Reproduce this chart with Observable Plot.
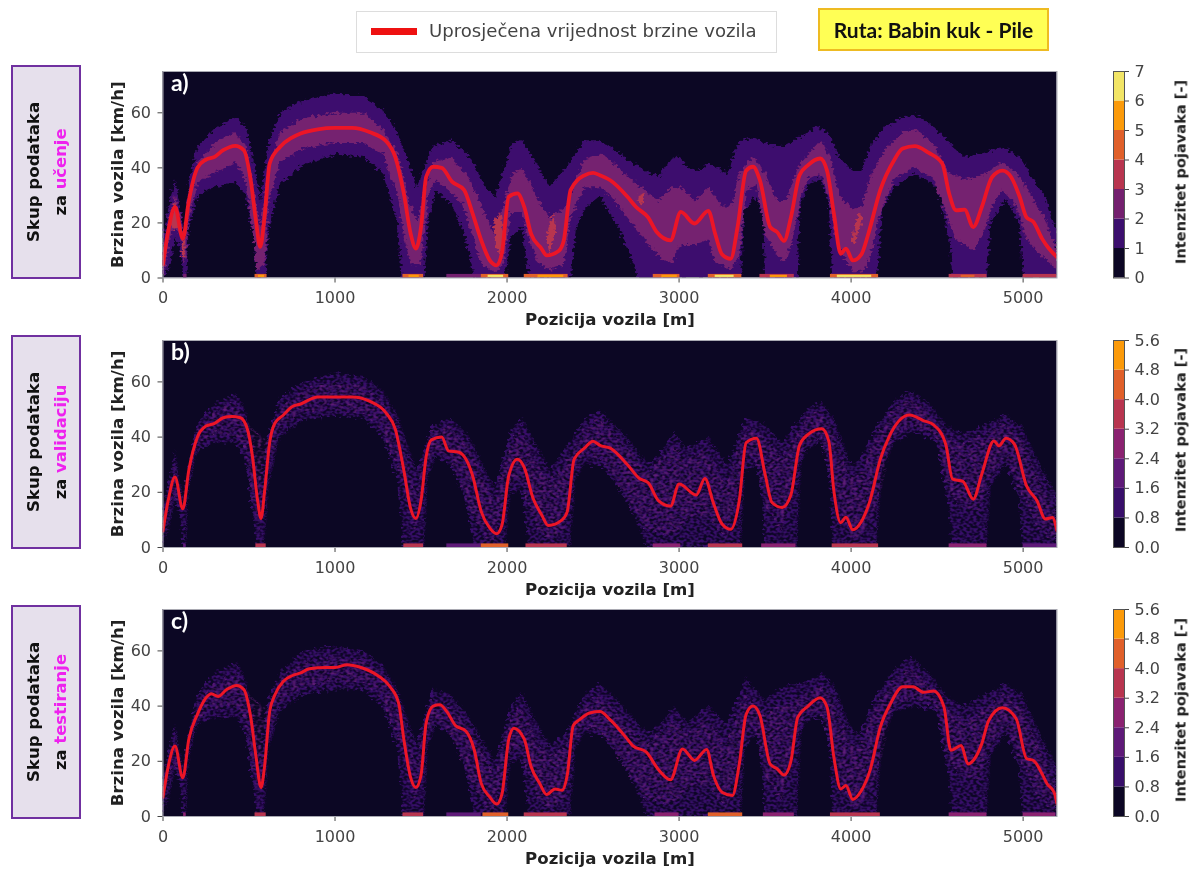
<!DOCTYPE html>
<html><head><meta charset="utf-8">
<script src="https://cdn.jsdelivr.net/npm/d3@7"></script>
<script src="https://cdn.jsdelivr.net/npm/@observablehq/plot@0.6"></script>
<style>
html,body{margin:0;background:#fff}
#page{position:relative;width:1195px;height:870px;overflow:hidden;font-family:"DejaVu Sans",sans-serif}
.abs{position:absolute}
.side{position:absolute;left:11px;width:66px;height:210px;background:#e6e0ec;border:2px solid #7030a0;filter:blur(.3px)}
.side div{position:absolute;left:50%;top:50%;transform:translate(-50%,-50%) rotate(-90deg);white-space:nowrap;text-align:center;font-family:"DejaVu Sans";font-weight:700;color:#111}
.side .l1{font-size:16.6px;margin-left:-13px}
.side .l2{font-size:16.4px;margin-left:14px}
.side b{color:#ee22ee}
#legend{left:356px;top:11px;width:419px;height:40px;border:1px solid #ddd;background:#fff;filter:blur(.3px)}
#legend i{position:absolute;left:14px;top:16px;width:46px;height:7px;background:#ee1111}
#legend span{position:absolute;left:72px;top:8px;font:18.1px "DejaVu Sans";color:#444;white-space:nowrap}
#route{left:818px;top:8px;width:227px;height:39px;border:2px solid #eebb22;background:#ffff55;font:700 21px Lato;color:#111;text-align:center;line-height:39px;filter:blur(.3px)}
svg{overflow:visible}
</style></head><body>
<svg width="0" height="0" style="position:absolute">
<defs>
<filter id="grain" filterUnits="userSpaceOnUse" x="0" y="0" width="1100" height="260">
<feTurbulence type="fractalNoise" baseFrequency="0.28 0.4" numOctaves="1" seed="4" result="n"/>
<feDisplacementMap in="SourceGraphic" in2="n" scale="9" xChannelSelector="R" yChannelSelector="G"/>
</filter>
<filter id="speck" filterUnits="userSpaceOnUse" x="0" y="0" width="1100" height="260">
<feTurbulence type="fractalNoise" baseFrequency="0.3 0.42" numOctaves="1" seed="7" result="n"/>
<feDisplacementMap in="SourceGraphic" in2="n" scale="11" xChannelSelector="R" yChannelSelector="G" result="d"/>
<feColorMatrix in="n" type="matrix" values="0 0 0 0 0  0 0 0 0 0  0 0 0 0 0  3.2 0 0 0 -1.1" result="m"/>
<feComposite in="d" in2="m" operator="in"/>
</filter>
<filter id="speckCore" filterUnits="userSpaceOnUse" x="0" y="0" width="1100" height="260">
<feTurbulence type="fractalNoise" baseFrequency="0.26 0.38" numOctaves="1" seed="13" result="n"/>
<feDisplacementMap in="SourceGraphic" in2="n" scale="11" xChannelSelector="R" yChannelSelector="G" result="d"/>
<feColorMatrix in="n" type="matrix" values="0 0 0 0 0  0 0 0 0 0  0 0 0 0 0  3 0 0 0 -1.35" result="m"/>
<feComposite in="d" in2="m" operator="in"/>
</filter>
</defs></svg>
<div id="page"></div>
<script>
// ---- text ----
const xTicks=[0,1000,2000,3000,4000,5000];
const yTicks=[0,20,40,60];
const barTicksA=[0,1,2,3,4,5,6,7];
const barTicksB=[0,0.8,1.6,2.4,3.2,4.0,4.8,5.6];
const xLabel="Pozicija vozila [m]";
const yLabel="Brzina vozila [km/h]";
const barLabel="Intenzitet pojavaka [-]";
const colorsA=["#0c0724","#3c0f6e","#74206f","#b8354f","#e0602a","#fb9a0a","#f2e566"];
const colorsB=["#0c0724","#380f6a","#5e1a78","#8a2270","#b8354f","#e0602a","#fb9a0a"];

// ---- mean speed: x [m], v [km/h] pairs ----
const meanA=[0,5,30,17,70,25.8,115,14.3,150,28,200,40,250,43,300,44,350,46.4,420,48,470,46.4,510,35.5,540,21,565,11.3,590,22,620,41.6,680,47.6,750,51,800,52.5,900,54,1000,54.5,1100,54.5,1200,53,1300,49.5,1350,44,1400,30.7,1440,16,1470,10.7,1500,18.5,1530,36.7,1570,40.4,1620,40,1680,35,1750,32,1800,23.4,1850,13.7,1900,6.4,1940,4.6,1970,9,2010,29.5,2060,30.7,2100,25.8,2140,16,2200,10.7,2230,8.2,2300,9.8,2330,13.7,2370,32,2450,37.3,2500,38.2,2540,37.3,2600,35.5,2700,29.5,2750,25.8,2820,22,2870,16.7,2950,13.7,3010,24,3090,19.8,3170,24.4,3210,16,3250,8.6,3300,7,3340,18.5,3390,39,3430,40.4,3470,35.5,3530,18.5,3570,16.7,3610,13.5,3650,22,3700,37.3,3750,41,3820,43.4,3860,39,3900,23.4,3940,8.8,3970,10.7,4010,6.4,4060,8.6,4100,16,4170,32,4250,42.8,4300,47,4370,47.9,4450,45.5,4530,41.6,4570,30.7,4610,24.6,4660,24.8,4710,18.5,4760,25.8,4820,36.7,4880,39,4930,36.7,4980,29.5,5020,22,5060,20.4,5110,14.3,5150,10.7,5197,7.6];
const meanB=[0,6,30,17,70,25.5,115,14,150,28,200,40,250,44,300,45,350,47,400,47.5,450,47,490,43,520,33,550,17,570,10.5,590,20,620,38,650,45,700,48,750,51,800,52,900,54.5,1000,54.5,1100,54.5,1200,53,1300,48.5,1350,43,1400,28,1440,14,1470,10.5,1500,17,1530,33,1560,39,1620,40,1660,35,1720,34.5,1800,26,1850,13,1900,7,1940,5,1970,8,2010,26,2060,32,2100,29,2150,18,2200,12,2240,8,2320,10,2350,13,2390,32,2450,36,2500,38.5,2540,37,2600,36,2700,30,2770,25,2820,23.5,2880,17,2950,15,3000,23,3100,19,3150,25,3200,16,3250,8.5,3300,6.6,3350,17,3390,38,3450,39.6,3500,26.6,3540,16.3,3600,14.5,3650,19,3700,37,3750,41,3830,43,3870,38.6,3900,20.5,3940,9,3970,11,4010,6.4,4060,9.4,4110,17,4170,32,4220,40,4340,48,4420,46,4480,44.4,4550,37.4,4590,24.8,4650,24,4710,17.5,4760,26.6,4830,38.6,4860,36.8,4900,39.6,4950,37.4,5020,22.3,5080,17,5130,10.3,5170,10.9,5197,6];
const meanC=[0,7,30,18,70,25.5,115,14,150,28,200,37,250,43,280,44.5,320,43.5,370,46,430,47.5,470,46,510,36,540,22,570,10.5,590,18,620,38,650,44,700,49,750,51,800,52,850,53.5,950,54,1000,54,1070,55,1150,54,1250,51,1320,47,1370,41,1400,28,1440,14,1470,10.5,1500,15,1530,34,1570,40,1610,40.5,1650,38,1700,33,1760,31,1810,24,1850,12,1900,7,1940,4.5,1970,8,2010,28,2040,32,2100,28,2140,18,2190,12,2230,8,2280,10,2320,9.5,2350,15,2385,33,2420,35,2480,37.5,2540,38,2600,35,2700,28,2730,25.7,2810,23.3,2880,17,2950,13.3,3020,24.5,3090,20.3,3160,24.3,3200,14.9,3250,8.8,3310,7.6,3350,19,3390,37,3430,40,3470,36.6,3530,19,3570,17.3,3610,15,3650,20,3690,36,3750,40,3820,43,3860,39.7,3900,21.5,3940,10,3970,11.2,4010,6.2,4060,9.4,4110,16.7,4170,32.4,4230,41,4300,47,4360,47,4420,45,4480,45.5,4540,39.7,4580,24,4640,25.7,4680,19,4710,20.3,4760,26.4,4800,34.8,4880,39.4,4960,35.4,5020,21,5060,20.3,5110,15.5,5140,11.8,5180,8.8,5197,4.6];

// ---- extent of the occurrence cloud ----
const outerTop=[0,15,40,28,70,36,100,25,125,15,150,35,200,47.6,300,54,420,58.5,480,55,525,43,565,28,613,49,680,60,810,64.6,1000,67,1166,66,1277,61,1365,52.5,1420,43,1475,33,1565,47.6,1675,50,1785,44,1874,33,1930,29.5,2030,49,2085,50,2185,40,2250,33,2340,40,2450,50,2540,50,2600,47.6,2700,43,2800,39,2880,36.7,2950,43,3000,44,3050,40,3120,39,3170,41.6,3280,38,3350,50,3430,51,3500,49,3600,47.6,3700,51,3800,55,3870,52.5,3930,44,4000,39,4060,39,4120,49,4200,55,4300,58.5,4380,59,4480,55,4570,49,4660,44,4750,45,4880,47.6,4980,44,5060,35.5,5130,29.5,5197,16];
const outerLow=[0,0,40,5,70,15,100,10,120,0,135,0,150,18,200,30,300,33,420,35,480,30,525,15,545,0,590,0,613,18,680,34,810,41,1000,45,1166,44,1277,38,1365,20,1387,0,1520,0,1540,20,1585,32,1675,27,1740,18,1785,8,1807,0,1990,0,2020,15,2085,18,2110,8,2130,0,2370,0,2400,18,2450,25,2540,30,2650,18,2720,8,2760,0,3360,0,3380,25,3450,30,3490,20,3500,0,3690,0,3700,25,3750,34,3820,36,3870,28,3890,0,4150,0,4180,25,4250,33,4370,38,4500,33,4570,15,4590,0,4790,0,4810,20,4900,29,4980,20,5000,0,5197,0];
const innerTop=[0,8,40,22,70,30,100,22,125,14,150,28,200,42,300,49,420,53,480,48,525,32,565,18,613,40,680,53,810,58,1000,60,1166,60,1277,54,1365,45,1420,30,1475,20,1565,42,1675,44,1785,36,1874,23,1930,15,2030,38,2085,40,2185,28,2250,22,2340,26,2450,43,2540,45,2600,43,2700,37,2800,32,2880,28,2950,33,3010,33,3090,28,3170,33,3250,26,3300,26,3350,38,3430,44,3500,38,3570,28,3620,28,3700,41,3820,50,3880,44,3930,30,4010,25,4060,26,4120,38,4200,47,4300,53,4380,54,4480,49,4570,38,4660,36,4750,37,4880,42,4980,37,5060,29,5130,21,5197,10];
const innerLow=[0,0,40,15,70,20,100,15,120,5,135,8,150,22,200,35,300,38,420,42,480,36,525,15,545,3,590,5,613,28,680,42,810,47,1000,49,1166,49,1277,45,1365,30,1400,15,1440,5,1500,5,1540,30,1585,36,1675,31,1740,27,1785,18,1850,5,1940,2,1980,5,2020,24,2085,24,2110,18,2170,6,2250,3,2330,5,2370,22,2450,33,2540,33,2600,30,2700,22,2800,14,2880,8,2950,5,3010,12,3090,12,3170,14,3210,6,3300,3,3350,8,3390,32,3450,34,3500,16,3570,8,3620,6,3660,14,3710,30,3750,36,3820,38,3870,30,3920,12,4010,2,4080,3,4120,10,4170,24,4250,36,4370,40,4480,36,4560,22,4610,14,4710,10,4770,16,4830,28,4880,32,4960,26,5020,14,5110,8,5197,3];
const thinTopB=[0,14,40,25,70,35,100,25,125,14,150,30,200,45,300,52,420,56,480,50,525,38,565,22,613,40,680,54,810,60,1000,63,1166,62,1277,57,1365,48,1420,38,1475,28,1565,44,1675,47,1785,40,1874,28,1930,22,2030,43,2085,47,2185,36,2250,28,2340,36,2450,46,2540,50,2600,46,2700,40,2820,30,2900,35,2970,42,3050,36,3170,40,3280,30,3390,47,3500,44.7,3600,38,3750,50.7,3830,52.5,3900,47,4000,30,4050,32,4150,43.5,4250,53,4350,56.8,4450,52.5,4550,44.7,4650,41,4750,43.5,4900,48,5000,43.5,5100,30,5197,19];
const thinLowB=[0,0,40,8,70,17,100,12,120,0,135,0,150,20,200,35,300,38,420,38,480,32,525,12,545,0,590,0,613,22,680,40,810,46,1000,48,1166,47,1277,40,1365,25,1400,0,1520,0,1540,25,1585,33,1675,30,1740,20,1785,10,1807,0,1990,0,2020,20,2085,20,2110,10,2130,0,2370,0,2400,25,2450,30,2540,30,2650,22,2750,10,2820,0,3360,0,3385,28,3450,30,3490,15,3500,0,3690,0,3710,30,3750,36,3830,38,3880,25,3895,0,4150,0,4180,28,4250,38,4370,42,4500,38,4570,15,4590,0,4790,0,4810,22,4900,30,4980,18,5000,0,5197,0];
const coreTopB=[40,20,70,30,100,20,150,26,200,42,300,49,420,53,480,46,613,38,680,50,810,57,1000,60,1166,59,1277,53,1365,44,1475,20,1565,42,1675,44,1785,36,1874,24,1930,17,2030,38,2085,43,2185,30,2250,24,2340,30,2450,43,2540,47,2700,37,2820,27,2970,37,3050,32,3170,36,3280,22,3390,44,3500,40,3600,33,3750,47,3830,50,3900,42,4000,25,4060,27,4150,40,4250,50,4350,54,4450,49,4550,41,4650,37,4750,40,4900,45,5000,39,5100,24,5197,12];
const coreLowB=[40,12,70,20,100,14,150,22,200,37,300,41,420,41,480,36,525,18,565,5,613,26,680,43,810,49,1000,50,1166,49,1277,43,1365,30,1475,5,1540,30,1585,35,1675,32,1785,14,1874,4,1930,2,2030,24,2085,24,2185,6,2250,3,2340,6,2400,28,2450,33,2540,33,2700,18,2820,6,2970,4,3050,10,3170,12,3280,3,3390,33,3450,33,3500,16,3600,6,3710,33,3750,38,3830,40,3880,28,4000,3,4060,4,4150,14,4250,40,4370,44,4500,40,4570,20,4650,14,4750,14,4810,25,4900,33,4980,22,5100,6,5197,2];
const thinTopC=[0,14,40,25,70,34,100,24,125,14,150,30,200,44,300,52,430,56,480,50,525,38,565,20,613,42,680,52,810,60,1000,62,1166,60,1277,55,1365,46,1420,36,1475,26,1565,46,1675,44,1785,36,1874,26,1930,20,2030,40,2085,45,2185,33,2250,26,2340,30,2450,44,2540,48,2600,45,2700,38,2820,30,2900,34,2970,40,3050,34,3170,40,3280,34,3390,50,3500,42,3600,47,3750,49,3830,52,3900,48,4000,32,4050,30,4150,44,4250,53,4350,58,4450,52,4550,44,4650,40,4750,43,4900,48,5000,44,5100,30,5197,18];
const thinLowC=[0,0,40,8,70,17,100,12,120,0,135,0,150,20,200,33,300,36,430,36,480,30,525,12,545,0,590,0,613,24,680,38,810,44,1000,46,1166,46,1277,40,1365,25,1400,0,1520,0,1540,25,1585,33,1675,30,1740,20,1785,10,1807,0,1990,0,2020,20,2085,20,2110,10,2130,0,2370,0,2400,25,2450,30,2540,30,2650,22,2750,10,2820,0,3360,0,3385,25,3450,30,3490,14,3500,0,3690,0,3710,30,3750,35,3830,36,3880,25,3895,0,4150,0,4180,28,4250,38,4370,40,4500,38,4570,15,4590,0,4790,0,4810,22,4900,30,4980,18,5000,0,5197,0];
const coreTopC=[40,19,70,29,100,19,150,26,200,40,300,48,430,52,480,46,613,38,680,49,810,56,1000,58,1166,57,1277,52,1365,43,1475,19,1565,42,1675,40,1785,32,1874,22,1930,15,2030,36,2085,40,2185,27,2250,22,2340,25,2450,40,2540,44,2700,34,2820,26,2970,35,3050,30,3170,36,3280,26,3390,45,3500,37,3600,40,3750,45,3830,48,3900,43,4000,26,4050,25,4150,40,4250,49,4350,54,4450,48,4550,40,4650,35,4750,38,4900,44,5000,39,5100,25,5197,12];
const coreLowC=[40,12,70,20,100,14,150,22,200,35,300,39,430,40,480,35,525,18,565,5,613,27,680,41,810,47,1000,49,1166,49,1277,43,1365,30,1475,5,1540,30,1585,35,1675,30,1785,14,1874,4,1930,2,2030,24,2085,24,2185,6,2250,3,2340,6,2400,28,2450,32,2540,32,2700,17,2820,6,2970,4,3050,10,3170,12,3280,3,3390,30,3450,33,3500,15,3600,6,3710,33,3750,37,3830,38,3880,28,4000,3,4060,4,4150,14,4250,40,4370,43,4500,40,4570,20,4650,14,4750,14,4810,25,4900,33,4980,22,5100,6,5197,2];
const hotSpotsA=[[1920,20,1960,24,1990,14,1960,8,1930,12],[2230,16,2270,24,2280,16,2245,8],[40,20,70,28,95,20,70,17],[110,14,125,13,125,8,110,8],[4000,14,4050,24,4065,22,4020,12],[2760,30,2800,31,2790,27,2755,28]];

// ---- occurrences at standstill, along v = 0: from, to, intensity ----
const stripA=[[120,140,2.5],[535,605,4.5],[1395,1515,4.5],[1650,1850,2.5],[1850,2010,4.5],[2100,2355,4.5],[2850,3005,4.5],[3170,3365,4.5],[3470,3670,3.5],[3880,4160,4.5],[4570,4790,3.5],[5000,5197,3.5]];
const stripCoreA=[[555,590,5.5],[1430,1490,5.5],[1890,1980,6.5],[2180,2330,5.5],[2900,2990,5.5],[3210,3320,6.5],[3530,3630,5.5],[3920,4120,6.5],[4640,4720,4.5]];
const stripB=[[120,135,2],[540,600,3.6],[1400,1515,3.6],[1650,1850,2],[1850,2010,4.4],[2110,2350,3.6],[2850,3010,2.8],[3170,3370,3.6],[3480,3680,2.8],[3890,4160,3.6],[4570,4790,2.8],[5000,5197,2]];
const stripC=[[120,135,2.8],[535,600,3.6],[1395,1515,3.6],[1650,1850,2],[1860,2010,4.4],[2100,2350,3.6],[2860,3000,2.8],[3170,3370,4.4],[3490,3670,2.8],[3880,4170,3.6],[4570,4790,2.8],[5000,5190,2.8]];

const pairs=f=>{const o=[];for(let i=0;i<f.length;i+=2)o.push({x:f[i],v:f[i+1]});return o;};
const band=(top,low,level)=>pairs(top).concat(pairs(low).reverse()).map(d=>({...d,level}));
const strips=(s)=>s.map(([x1,x2,level])=>({x1,x2,level}));

const panels=[
 {name:"a)",top:71,h:206.5,mean:meanA,sw:3.8,thresholds:[1,2,3,4,5,6],colors:colorsA,
  bands:[[band(outerTop,outerLow,1.5),"url(#grain)"],[band(innerTop,innerLow,2.5),"url(#grain)"]],spots:3.5,strip:strips(stripA),core:strips(stripCoreA),bt:barTicksA},
 {name:"b)",top:339.5,h:207,mean:meanB,sw:3,thresholds:[.8,1.6,2.4,3.2,4,4.8],colors:colorsB,
  bands:[[band(thinTopB,thinLowB,1.2),"url(#speck)"],[band(coreTopB,coreLowB,2),"url(#speckCore)"]],strip:strips(stripB),bt:barTicksB},
 {name:"c)",top:609,h:207,mean:meanC,sw:3,thresholds:[.8,1.6,2.4,3.2,4,4.8],colors:colorsB,
  bands:[[band(thinTopC,thinLowC,1.2),"url(#speck)"],[band(coreTopC,coreLowC,2),"url(#speckCore)"]],strip:strips(stripC),bt:barTicksB}
];

const page=document.getElementById("page");
const place=(el,left,top)=>{el.style.position="absolute";el.style.left=left+"px";el.style.top=top+"px";el.style.filter="blur(.4px)";page.appendChild(el);};
const font={fontFamily:"DejaVu Sans",fontSize:"16px",color:"#444",background:"transparent"};

panels.forEach(p=>{
  const colorScale={type:"threshold",domain:p.thresholds,range:p.colors};
  const marks=[
    Plot.rect([0],{x1:0,x2:5197,y1:0,y2:75,fill:p.colors[0]}),
    ...p.bands.map(([b,f])=>Plot.line(b,{x:"x",y:"v",z:"level",fill:"level",stroke:null,imageFilter:f,curve:"linear",clip:true})),
  ];
  if(p.spots) marks.push(...hotSpotsA.map(s=>Plot.line(pairs(s).map(d=>({...d,level:p.spots})),{x:"x",y:"v",z:"level",fill:"level",stroke:null,imageFilter:"url(#grain)",clip:true})));
  marks.push(
    Plot.rect(p.strip,{x1:"x1",x2:"x2",y1:0,y2:1.3,fill:"level"}),
    ...(p.core?[Plot.rect(p.core,{x1:"x1",x2:"x2",y1:0.2,y2:1.0,fill:"level"})]:[]),
    Plot.line(pairs(p.mean),{x:"x",y:"v",stroke:"#ec1526",strokeWidth:p.sw,strokeLinejoin:"round",curve:"monotone-x",clip:true}),
    Plot.text([p.name],{frameAnchor:"top-left",dx:8,dy:3,fill:"#fff",fontFamily:"Lato",fontWeight:700,fontSize:23,lineAnchor:"top"}),
    Plot.frame({stroke:"#a9a9b2",strokeWidth:1})
  );
  const svg=Plot.plot({
    width:1075,height:p.h+55,marginLeft:162.5,marginRight:18.5,marginTop:0,marginBottom:55,
    style:font,
    x:{domain:[0,5197],ticks:xTicks,tickFormat:"d",tickSize:5,tickPadding:9,label:xLabel,labelAnchor:"center",labelArrow:"none",labelOffset:47},
    y:{domain:[0,75],ticks:yTicks,tickSize:5,tickPadding:7,label:yLabel,labelAnchor:"center",labelArrow:"none",labelOffset:52},
    color:colorScale,
    marks
  });
  svg.querySelectorAll('g[aria-label="x-axis label"] text,g[aria-label="y-axis label"] text').forEach(t=>{t.style.fontWeight="700";t.style.fill="#222";t.style.fontSize="16.6px";});
  place(svg,0,p.top);

  // colour bar
  const step=p.bt[1]-p.bt[0];
  const bins=p.colors.map((c,i)=>({lo:p.bt[i],hi:p.bt[i+1],c}));
  const bar=Plot.plot({
    width:100,height:p.h,marginLeft:23,marginRight:66,marginTop:0,marginBottom:0,style:font,
    x:{domain:[0,1],axis:null},
    y:{domain:[p.bt[0],p.bt[p.bt.length-1]],axis:null},
    marks:[
      Plot.rect(bins,{x1:0,x2:1,y1:"lo",y2:"hi",fill:"c"}),
      Plot.frame({stroke:"#555",strokeWidth:1}),
      Plot.axisY({anchor:"right",ticks:p.bt,tickFormat:step===1?"d":".1f",tickSize:4,tickPadding:6,label:null})
    ]
  });
  place(bar,1090,p.top);
  const t=document.createElement("div");
  t.textContent=barLabel;
  t.style.cssText=`position:absolute;left:1180px;top:${p.top+(p===panels[0]?101:p.h/2-3)}px;transform:translate(-50%,-50%) rotate(-90deg);white-space:nowrap;font:700 14.6px "DejaVu Sans";color:#222;filter:blur(.35px)`;
  page.appendChild(t);
});

// ---- captions ----
const sideTexts=[["za ","učenje",65],["za ","validaciju",335],["za ","testiranje",605]];
sideTexts.forEach(([a,b,top])=>{
  const d=document.createElement("div");d.className="side";d.style.top=top+"px";
  const l1=document.createElement("div");l1.className="l1";l1.textContent="Skup podataka";
  const l2=document.createElement("div");l2.className="l2";l2.textContent=a;
  const m=document.createElement("b");m.textContent=b;l2.appendChild(m);
  d.append(l1,l2);page.appendChild(d);
});
const lg=document.createElement("div");lg.id="legend";lg.className="abs";
lg.innerHTML="<i></i><span>Uprosječena vrijednost brzine vozila</span>";page.appendChild(lg);
const rt=document.createElement("div");rt.id="route";rt.className="abs";rt.textContent="Ruta: Babin kuk - Pile";page.appendChild(rt);
</script>
</body></html>
